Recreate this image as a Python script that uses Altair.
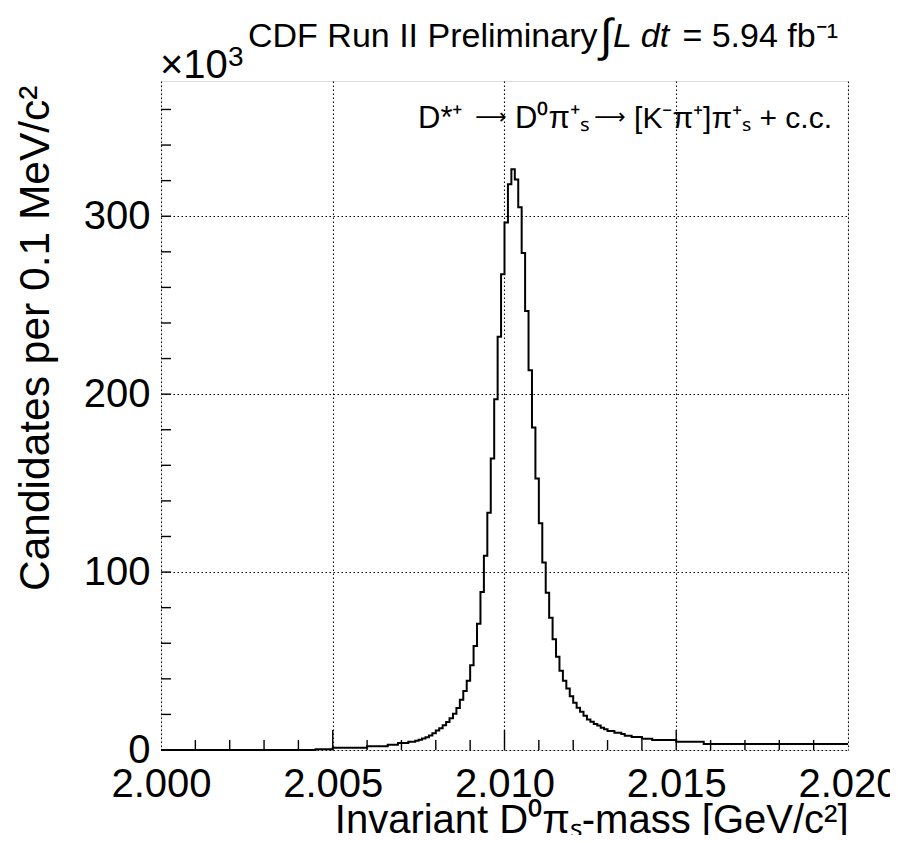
import altair as alt
import pandas as pd

# ---------------- data (thousands of candidates per 0.1 MeV/c^2) ----------------
bin_low_edge = 2.000
bin_width = 0.0001
n_bins = 200

counts = (
    [0.0] * 45
    + [0.4, 0.4, 0.4, 0.4, 0.4]
    + [1.2, 1.2, 1.2, 1.2, 1.2, 1.2, 1.2, 1.2, 1.2, 1.2]
    + [2.1, 2.1, 2.1, 2.1, 2.1, 2.1]
    + [3.0, 3.0, 3.0]
    + [3.9, 3.9, 3.9]
    + [4.6, 4.6, 5.2, 5.8, 6.4, 7.1, 8.2, 9.4, 10.9, 12.2, 13.9, 15.7, 17.8, 20.4]
    + [23.6, 28.2, 33.1, 38.9, 47.6, 58.4, 71.0, 88.8, 109.2, 133.3, 163.9, 197.2]
    + [232.2, 267.4, 296.5, 318.0, 326.4, 320.6, 305.0, 279.4, 246.8, 213.5]
    + [181.3, 152.6, 127.4, 105.4, 88.4, 74.3, 62.2, 52.4, 44.6, 38.9, 34.5, 30.2]
    + [26.6, 23.8, 21.5, 19.3, 17.2, 15.9, 14.6, 13.7, 12.5, 11.6, 10.7, 10.7]
    + [9.7, 9.7, 9.0, 8.0, 8.0, 7.3, 7.3, 7.3, 6.3, 6.3, 6.3]
    + [5.6, 5.6, 5.6, 5.6, 5.6, 5.6, 5.6]
    + [4.7, 4.7, 4.7, 4.7, 4.7, 4.7, 4.7, 4.7]
    + [3.4] * 42
)

x_major = [2.000, 2.005, 2.010, 2.015, 2.020]
x_minor = [2.001, 2.002, 2.003, 2.004, 2.006, 2.007, 2.008, 2.009,
           2.011, 2.012, 2.013, 2.014, 2.016, 2.017, 2.018, 2.019]
x_major_inner = [2.005, 2.010, 2.015]
y_major = [0, 100, 200, 300]
y_major_inner = [100, 200, 300]
y_minor = [20, 40, 60, 80, 120, 140, 160, 180, 220, 240, 260, 280, 320, 340, 360]

x_domain = [2.000, 2.020]
y_domain = [0, 376]

title_main = "CDF Run II Preliminary"
title_int = "\u222B"
title_ldt = "L dt"
title_rest = "= 5.94 fb\u207B\u00B9"
legend_p1 = "D*\u207A"
legend_arrow = "\u27F6"
legend_p2 = "D\u2070\u03C0\u207A\u209B"
legend_p3 = "[K\u207B\u03C0\u207A]\u03C0\u207A\u209B + c.c."
x_title = "Invariant D\u2070\u03C0\u209B-mass [GeV/c\u00B2]"
y_title = "Candidates per 0.1 MeV/c\u00B2"
exp_base = "\u00D710"
exp_pow = "3"

# ---------------- build ----------------
W, H = 687, 669
FONT = "Liberation Sans"

edges = [round(bin_low_edge + i * bin_width, 4) for i in range(n_bins + 1)]
hist_df = pd.DataFrame({"mass": edges, "count": counts + [counts[-1]]})

xs = alt.Scale(domain=x_domain, nice=False, zero=False)
ys = alt.Scale(domain=y_domain, nice=False, zero=False)

grid_style = dict(grid=True, gridDash=[1.5, 2.5], gridColor="black", gridWidth=1.1)

x_axis = alt.Axis(
    values=x_major, format=".3f", tickSize=0, ticks=False, domain=False,
    labelFont=FONT, labelFontSize=40, labelColor="black", labelPadding=14,
    labelFlush=False, labelOverlap=False, **grid_style,
    title=x_title, titleFont=FONT, titleFontSize=40, titleFontWeight="normal",
    titleColor="black", titleX=W, titleY=82, titleAlign="right",
    titleBaseline="alphabetic",
)
y_axis = alt.Axis(
    values=y_major, format="d", tickSize=0, ticks=False, domain=False,
    labelFont=FONT, labelFontSize=40, labelColor="black", labelPadding=11,
    labelOverlap=False, **grid_style,
    title=y_title, titleFont=FONT, titleFontSize=42.5, titleFontWeight="normal",
    titleColor="black", titleAngle=270, titleX=-113, titleY=4,
    titleAlign="right", titleBaseline="alphabetic",
)

hist = alt.Chart(hist_df).mark_line(
    interpolate="step-after", color="black", strokeWidth=2
).encode(
    x=alt.X("mass:Q", scale=xs, axis=x_axis),
    y=alt.Y("count:Q", scale=ys, axis=y_axis),
)

xmaj_df = pd.DataFrame({"mass": x_major_inner})
xmin_df = pd.DataFrame({"mass": x_minor})
ymaj_df = pd.DataFrame({"count": y_major_inner})
ymin_df = pd.DataFrame({"count": y_minor})

tick_style = dict(color="black", strokeWidth=1.4)
xmaj_ticks = alt.Chart(xmaj_df).mark_rule(**tick_style).encode(
    x=alt.X("mass:Q", scale=xs), y=alt.value(H), y2=alt.value(H - 20))
xmin_ticks = alt.Chart(xmin_df).mark_rule(**tick_style).encode(
    x=alt.X("mass:Q", scale=xs), y=alt.value(H), y2=alt.value(H - 10))
ymaj_ticks = alt.Chart(ymaj_df).mark_rule(**tick_style).encode(
    y=alt.Y("count:Q", scale=ys), x=alt.value(0), x2=alt.value(10))
ymin_ticks = alt.Chart(ymin_df).mark_rule(**tick_style).encode(
    y=alt.Y("count:Q", scale=ys), x=alt.value(0), x2=alt.value(10))


def label(text, x, y, size, align="left", italic=False, font=FONT):
    return alt.Chart(pd.DataFrame({"t": [text]})).mark_text(
        font=font, fontSize=size, align=align, baseline="alphabetic",
        color="black", fontStyle="italic" if italic else "normal",
    ).encode(text="t:N", x=alt.value(x), y=alt.value(y))


texts = [
    label(title_main, 87, -34, 34),
    label(title_int, 439, -30, 46),
    label(title_ldt, 452, -34, 34, italic=True),
    label(title_rest, 677, -34, 34, align="right"),
    label(exp_base, -1, -3, 40),
    label(exp_pow, 67, -15, 28),
    label(legend_p1, 257, 47, 31),
    label(legend_arrow, 330, 43, 22, align="center", font="DejaVu Sans"),
    label(legend_p2, 354, 47, 31),
    label(legend_arrow, 449, 43, 22, align="center", font="DejaVu Sans"),
    label(legend_p3, 671, 47, 30, align="right"),
]

chart = alt.layer(hist, xmaj_ticks, xmin_ticks, ymaj_ticks, ymin_ticks, *texts).properties(
    width=W, height=H,
    autosize=alt.AutoSizeParams(type="none"),
    padding={"left": 153, "top": 73, "right": 42, "bottom": 85},
).configure_view(stroke="black", strokeWidth=1.6).configure(background="white")

chart.save("out.html", embed_options={"renderer": "svg", "actions": False})
